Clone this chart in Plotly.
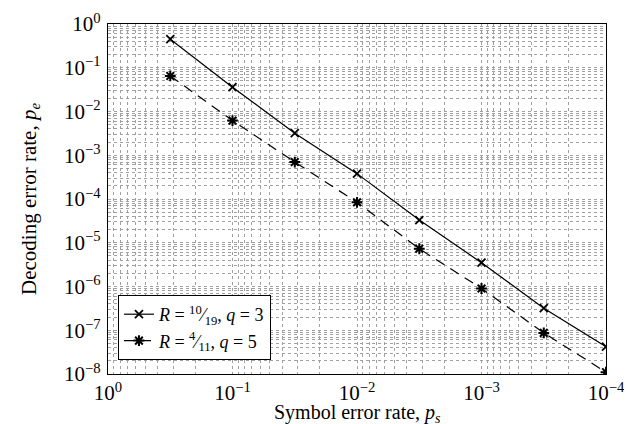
import plotly.graph_objects as go

# Data
symbol_error_rate = [0.316, 0.1, 0.0316, 0.01, 0.00316, 0.001, 0.000316, 0.0001]
pe_R10_19_q3 = [0.45, 0.036, 0.0032, 0.00038, 3.3e-5, 3.5e-6, 3.2e-7, 4.2e-8]
pe_R4_11_q5 = [0.065, 0.0062, 0.0007, 8.4e-5, 7.3e-6, 9.0e-7, 8.7e-8, 1.1e-8]

series_names = ["<i>R</i> = <sup>10</sup>⁄<sub>19</sub>, <i>q</i> = 3",
                "<i>R</i> = <sup>4</sup>⁄<sub>11</sub>, <i>q</i> = 5"]

x_tickvals = [1, 0.1, 0.01, 0.001, 0.0001]
x_ticktext = ["10<sup>0</sup>", "10<sup>−1</sup>", "10<sup>−2</sup>", "10<sup>−3</sup>", "10<sup>−4</sup>"]
y_tickvals = [1, 1e-1, 1e-2, 1e-3, 1e-4, 1e-5, 1e-6, 1e-7, 1e-8]
y_ticktext = ["10<sup>0</sup>", "10<sup>−1</sup>", "10<sup>−2</sup>", "10<sup>−3</sup>", "10<sup>−4</sup>",
              "10<sup>−5</sup>", "10<sup>−6</sup>", "10<sup>−7</sup>", "10<sup>−8</sup>"]

x_title = "Symbol error rate, <i>p</i><sub><i>s</i></sub>"
y_title = "Decoding error rate, <i>p</i><sub><i>e</i></sub>"

FONT = "Liberation Serif"

fig = go.Figure()
fig.add_trace(go.Scatter(
    x=symbol_error_rate, y=pe_R10_19_q3, name=series_names[0], mode="lines+markers",
    line=dict(color="black", width=1.2),
    marker=dict(symbol="x-thin", size=8, color="black", line=dict(color="black", width=1.8)),
))
fig.add_trace(go.Scatter(
    x=symbol_error_rate, y=pe_R4_11_q5, name=series_names[1], mode="lines+markers",
    line=dict(color="black", width=1.2, dash="10px,7px"),
    marker=dict(symbol="asterisk", size=9, color="black", line=dict(color="black", width=2)),
))

grid_color = "#a0a0a0"
common_axis = dict(
    automargin=False,
    showline=True, linecolor="black", linewidth=1.3, mirror=True,
    showgrid=True, gridcolor=grid_color, griddash="dot", gridwidth=1,
    minor=dict(showgrid=True, gridcolor=grid_color, griddash="dot", gridwidth=1, dtick="D1"),
    ticks="", zeroline=False,
    tickfont=dict(size=21, family=FONT, color="black"),
)
fig.update_xaxes(type="log", range=[0, -4], tickvals=x_tickvals, ticktext=x_ticktext,
                 ticklabelstandoff=0, **common_axis)
fig.update_yaxes(type="log", range=[-8, 0], tickvals=y_tickvals, ticktext=y_ticktext,
                 ticklabelstandoff=2, **common_axis)

fig.add_annotation(text=x_title, xref="paper", yref="paper", x=0.5, y=0,
                   xanchor="center", yanchor="top", yshift=-25, showarrow=False,
                   font=dict(size=20, family=FONT, color="black"))
fig.add_annotation(text=y_title, xref="paper", yref="paper", x=0, y=0.5,
                   xanchor="center", yanchor="middle", xshift=-78, textangle=-90, showarrow=False,
                   font=dict(size=21, family=FONT, color="black"))

fig.update_layout(
    width=632, height=424,
    margin=dict(l=100, r=34, t=16, b=58),
    paper_bgcolor="white", plot_bgcolor="white",
    font=dict(family=FONT, color="black"),
    legend=dict(x=0.02, y=0.04, xanchor="left", yanchor="bottom",
                bgcolor="white", bordercolor="black", borderwidth=1,
                font=dict(size=18, family=FONT, color="black"), tracegroupgap=0),
    showlegend=True,
)
fig.write_html("out.html")
